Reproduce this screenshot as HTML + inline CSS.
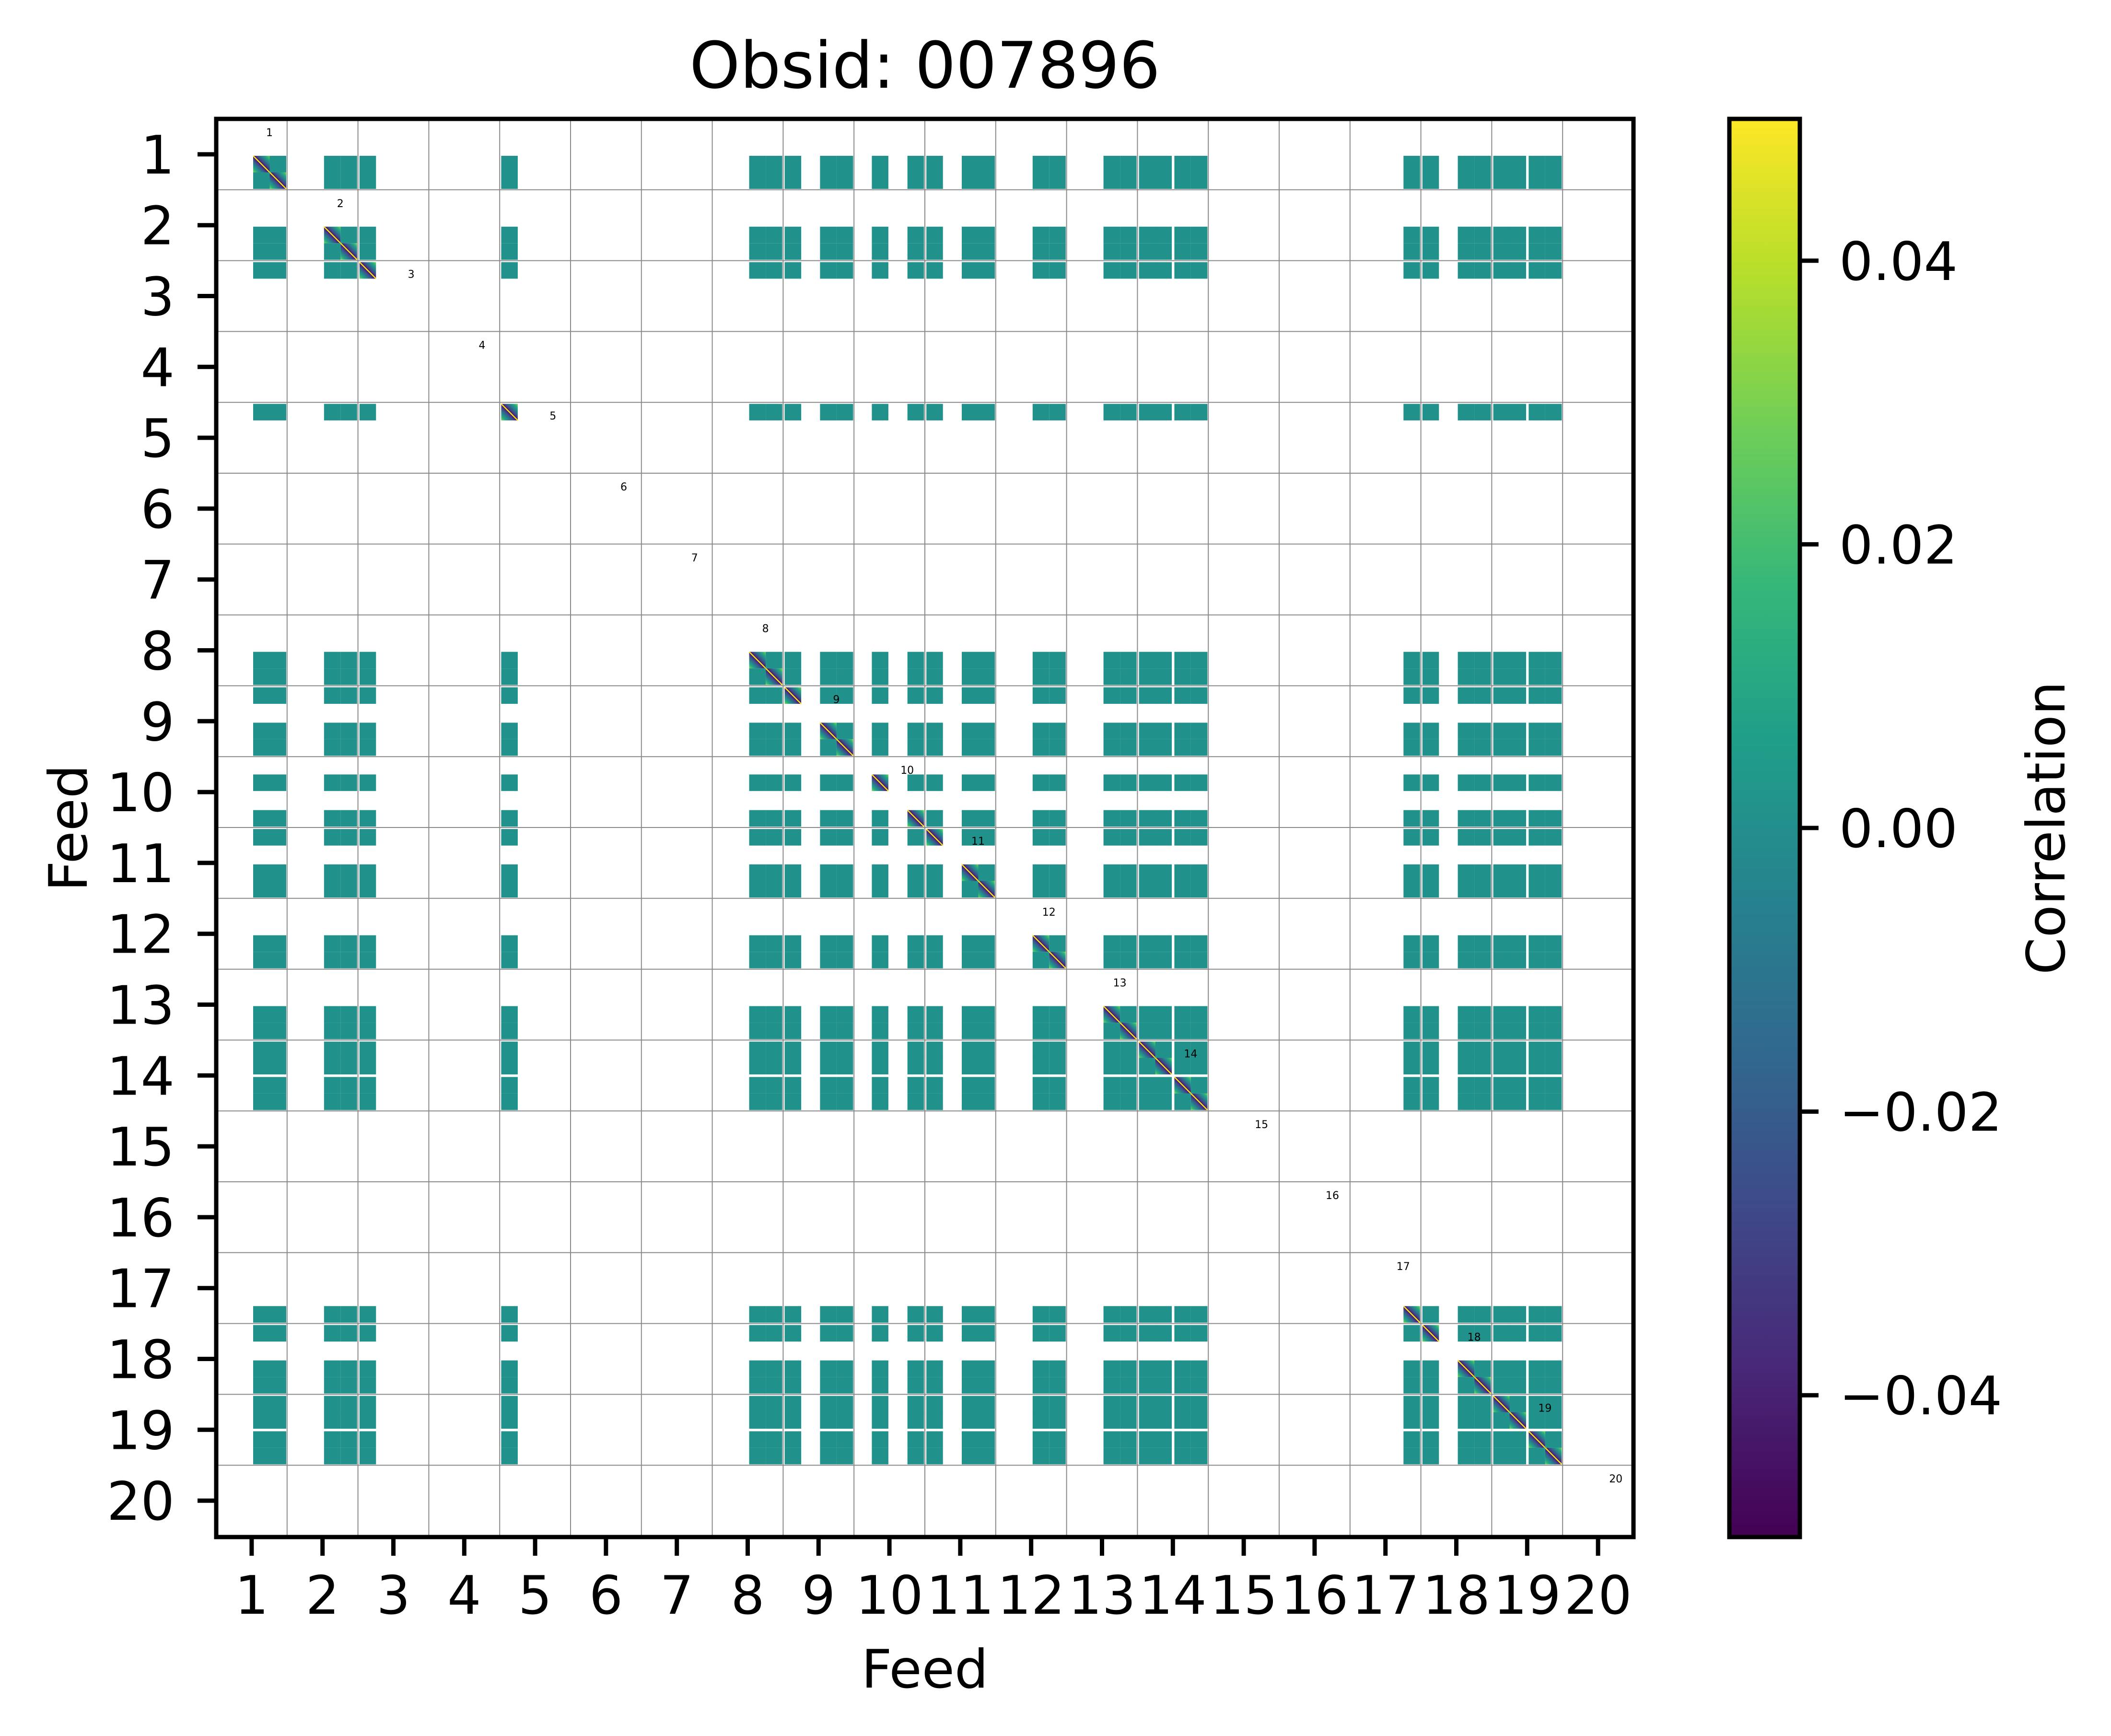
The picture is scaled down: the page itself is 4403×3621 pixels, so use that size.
<!DOCTYPE html>
<html>
<head>
<meta charset="utf-8">
<style>
  html, body { margin: 0; padding: 0; background: #ffffff; }
  svg { display: block; font-family: "DejaVu Sans", "Liberation Sans", sans-serif; }
</style>
</head>
<body>
<svg id="chart" xmlns="http://www.w3.org/2000/svg" width="4403" height="3621" viewBox="0 0 4403 3621">
  <defs>
    <linearGradient id="cbar" x1="0" y1="0" x2="0" y2="1">
      <stop offset="0" stop-color="#fde725"/>
      <stop offset="0.11" stop-color="#b5de2b"/>
      <stop offset="0.22" stop-color="#6ece58"/>
      <stop offset="0.33" stop-color="#35b779"/>
      <stop offset="0.44" stop-color="#1f9e89"/>
      <stop offset="0.55" stop-color="#26828e"/>
      <stop offset="0.66" stop-color="#31688e"/>
      <stop offset="0.77" stop-color="#3e4989"/>
      <stop offset="0.88" stop-color="#482878"/>
      <stop offset="1" stop-color="#440154"/>
    </linearGradient>
    <linearGradient id="diag" x1="0" y1="1" x2="1" y2="0">
      <stop offset="0" stop-color="#7ad151"/>
      <stop offset="0.14" stop-color="#22a884"/>
      <stop offset="0.28" stop-color="#2a788e"/>
      <stop offset="0.4" stop-color="#414487"/>
      <stop offset="0.5" stop-color="#440154"/>
      <stop offset="0.6" stop-color="#414487"/>
      <stop offset="0.72" stop-color="#2a788e"/>
      <stop offset="0.86" stop-color="#22a884"/>
      <stop offset="1" stop-color="#7ad151"/>
    </linearGradient>
  </defs>
  <text x="1929" y="183" font-size="134" text-anchor="middle" fill="#000">Obsid: 007896</text>
  <g id="plot"></g>
  <g id="cb"></g>
  <text x="1929" y="3520" font-size="111" text-anchor="middle" fill="#000">Feed</text>
  <text x="181" y="1727" font-size="111" text-anchor="middle" fill="#000" transform="rotate(-90 181 1727)">Feed</text>
  <text x="4306" y="1727" font-size="111" text-anchor="middle" fill="#000" transform="rotate(-90 4306 1727)">Correlation</text>
</svg>
<script>
// ---- data ----
const feeds = [1,2,3,4,5,6,7,8,9,10,11,12,13,14,15,16,17,18,19,20];
// band presence per feed (4 sidebands each), 1 = data present
const band0 = [1,1,0,0,0,0,0,1,1,0,1,1,1,1,0,0,0,1,1,0];
const band1 = [1,1,0,0,0,0,0,1,1,1,1,1,1,1,0,0,1,1,1,0];
const band2 = [0,1,0,1,0,0,0,1,0,1,0,0,1,0,0,0,1,1,0,0];
const band3 = [0,0,0,0,0,0,0,0,1,0,0,0,1,0,0,0,0,1,0,0];
const cbTicks = [-0.04, -0.02, 0.00, 0.02, 0.04];
const cbTickLabels = ["\u22120.04", "\u22120.02", "0.00", "0.02", "0.04"];
const cbMin = -0.05, cbMax = 0.05;

// ---- geometry ----
const NS = "http://www.w3.org/2000/svg";
const L = 451, R = 3407, T = 248, B = 3206;
const cellW = (R - L) / feeds.length;
const bandOff = [77, 111.5, 151, 185];
const bandW = 34.5;
function xPos(f) { return L + (f - 1) * cellW; }
function yPos(f) { return T + (f - 1) * cellW; }
function el(tag, attrs, parent) {
  const e = document.createElementNS(NS, tag);
  for (const k in attrs) e.setAttribute(k, attrs[k]);
  parent.appendChild(e);
  return e;
}
const plot = document.getElementById('plot');
const bands = [];
const presence = [band0, band1, band2, band3];
feeds.forEach((f, i) => {
  for (let b = 0; b < 4; b++) {
    if (presence[b][i]) bands.push({ f: f, b: b });
  }
});

// background
const bg = el('rect', { x: L, y: T, width: R - L, height: B - T, fill: '#ffffff' }, plot);



// heatmap cells
bands.forEach(rb => {
  bands.forEach(cb => {
    const x = xPos(cb.f) + bandOff[cb.b];
    const y = yPos(rb.f) + bandOff[rb.b];
    const same = (rb.f === cb.f && rb.b === cb.b);
    const r = el('rect', { x: x, y: y, width: bandW, height: bandW, fill: same ? 'url(#diag)' : '#21918c' }, plot);
    
    
    if (same) {
      const ln = el('line', { x1: x, y1: y, x2: x + bandW, y2: y + bandW, stroke: '#fde725', 'stroke-width': 2.5 }, plot);
      
      
    }
  });
});

// grid lines
for (let k = 1; k < feeds.length; k++) {
  const gv = el('line', { x1: L + k * cellW, y1: T, x2: L + k * cellW, y2: B, stroke: '#8a8a8a', 'stroke-width': 2 }, plot);
  
  
  const gh = el('line', { x1: L, y1: T + k * cellW, x2: R, y2: T + k * cellW, stroke: '#8a8a8a', 'stroke-width': 2 }, plot);
  
  
}

// feed labels (tiny)
feeds.forEach(f => {
  const t = el('text', { x: xPos(f) + 111, y: yPos(f) + 36, 'font-size': 22, 'text-anchor': 'middle', fill: '#000' }, plot);
  t.textContent = String(f);
  
  
});

// frame
const fr = el('rect', { x: L, y: T, width: R - L, height: B - T, fill: 'none', stroke: '#000', 'stroke-width': 9 }, plot);



// ticks
feeds.forEach(f => {
  const cx = xPos(f) + cellW / 2;
  const cy = yPos(f) + cellW / 2;
  const xt = el('line', { x1: cx, y1: B, x2: cx, y2: B + 39, stroke: '#000', 'stroke-width': 9 }, plot);
  
  
  const xl = el('text', { x: cx, y: 3366, 'font-size': 111, 'text-anchor': 'middle', fill: '#000' }, plot);
  xl.textContent = String(f);
  
  
  const yt = el('line', { x1: L - 39, y1: cy, x2: L, y2: cy, stroke: '#000', 'stroke-width': 9 }, plot);
  
  
  const yl = el('text', { x: 364, y: cy + 40, 'font-size': 111, 'text-anchor': 'end', fill: '#000' }, plot);
  yl.textContent = String(f);
  
  
});

// colorbar
const cbG = document.getElementById('cb');
const CBL = 3607, CBR = 3754;
function cbY(v) { return T + (cbMax - v) / (cbMax - cbMin) * (B - T); }
const cbr = el('rect', { x: CBL, y: T, width: CBR - CBL, height: B - T, fill: 'url(#cbar)', stroke: '#000', 'stroke-width': 9 }, cbG);


cbTicks.forEach((v, i) => {
  const y = cbY(v);
  const tk = el('line', { x1: CBR, y1: y, x2: CBR + 39, y2: y, stroke: '#000', 'stroke-width': 9 }, cbG);
  
  
  const tl = el('text', { x: 3836, y: y + 40, 'font-size': 111, fill: '#000' }, cbG);
  tl.textContent = cbTickLabels[i];
  
  
});
</script>
</body>
</html>
